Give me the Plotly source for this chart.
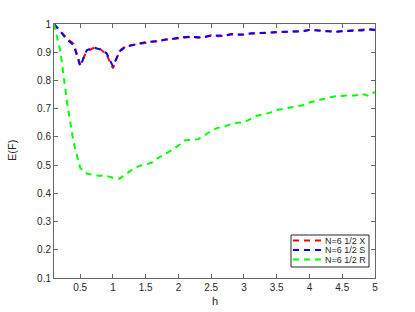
import plotly.graph_objects as go

h = [round(0.1 * i, 1) for i in range(1, 51)]

e_x = [1.000, 0.975, 0.948, 0.930, 0.858, 0.903, 0.915, 0.912, 0.893, 0.843,
       0.905, 0.922, 0.926, 0.930, 0.934, 0.937, 0.939, 0.944, 0.946, 0.950,
       0.952, 0.955, 0.951, 0.955, 0.960, 0.957, 0.958, 0.965, 0.962, 0.963,
       0.966, 0.968, 0.968, 0.969, 0.972, 0.971, 0.972, 0.973, 0.975, 0.980,
       0.977, 0.976, 0.974, 0.972, 0.974, 0.976, 0.976, 0.978, 0.982, 0.978]

e_s = [1.000, 0.972, 0.945, 0.925, 0.850, 0.907, 0.917, 0.910, 0.897, 0.850,
       0.903, 0.920, 0.925, 0.931, 0.936, 0.938, 0.940, 0.945, 0.947, 0.952,
       0.954, 0.955, 0.953, 0.954, 0.959, 0.958, 0.959, 0.963, 0.963, 0.963,
       0.967, 0.968, 0.967, 0.970, 0.972, 0.972, 0.972, 0.974, 0.974, 0.979,
       0.976, 0.975, 0.974, 0.972, 0.975, 0.976, 0.976, 0.977, 0.981, 0.980]

e_r = [1.000, 0.900, 0.720, 0.580, 0.490, 0.470, 0.465, 0.462, 0.462, 0.455,
       0.452, 0.470, 0.485, 0.497, 0.502, 0.510, 0.527, 0.540, 0.553, 0.570,
       0.588, 0.589, 0.592, 0.605, 0.622, 0.632, 0.636, 0.645, 0.650, 0.652,
       0.665, 0.675, 0.680, 0.686, 0.695, 0.700, 0.705, 0.708, 0.712, 0.722,
       0.728, 0.735, 0.740, 0.744, 0.746, 0.747, 0.747, 0.753, 0.745, 0.760]

names = ["N=6 1/2 X", "N=6 1/2 S", "N=6 1/2 R"]
colors = ["#ff0000", "#0000ff", "#00ff00"]

x_ticks = [0.5, 1, 1.5, 2, 2.5, 3, 3.5, 4, 4.5, 5]
x_labels = ["0.5", "1", "1.5", "2", "2.5", "3", "3.5", "4", "4.5", "5"]
y_ticks = [0.1, 0.2, 0.3, 0.4, 0.5, 0.6, 0.7, 0.8, 0.9, 1.0]
y_labels = ["0.1", "0.2", "0.3", "0.4", "0.5", "0.6", "0.7", "0.8", "0.9", "1"]

DASH = "6px,5px"
FAM = "Liberation Sans, Arial, sans-serif"
TXT = "#262626"
axis_color = "#666666"

fig = go.Figure()
for ys, nm, c in zip([e_x, e_s, e_r], names, colors):
    fig.add_trace(go.Scatter(x=h, y=ys, mode="lines", name=nm,
                             line=dict(color=c, width=2, dash=DASH)))

# legend (drawn in paper coordinates, MATLAB style compact box)
L, R, T, B = 54, 40, 24, 34
W, H = 415 - L - R, 312 - T - B
def px(x): return (x - L) / W
def py(y): return (312 - B - y) / H

shapes = [dict(type="rect", xref="paper", yref="paper",
               x0=px(291), x1=px(369), y0=py(267), y1=py(235),
               line=dict(color=TXT, width=1), fillcolor="white", layer="above")]
annotations = []
rows = [240.5, 250, 259.5]
for nm, c, ry in zip(names, colors, rows):
    shapes.append(dict(type="line", xref="paper", yref="paper",
                       x0=px(293), x1=px(321), y0=py(ry), y1=py(ry),
                       line=dict(color=c, width=2, dash=DASH), layer="above"))
    annotations.append(dict(text=nm, xref="paper", yref="paper",
                            x=px(322.5), y=py(ry), xanchor="left", yanchor="middle",
                            showarrow=False, font=dict(family=FAM, size=9, color=TXT)))

annotations.append(dict(text="h", xref="paper", yref="paper", x=px(214.5), y=py(301),
                        xanchor="center", yanchor="middle", showarrow=False,
                        font=dict(family=FAM, size=11, color=TXT)))
annotations.append(dict(text="E(F)", xref="paper", yref="paper", x=px(12), y=py(151),
                        xanchor="center", yanchor="middle", textangle=-90, showarrow=False,
                        font=dict(family=FAM, size=11, color=TXT)))

fig.update_layout(
    width=415, height=312,
    margin=dict(l=L, r=R, t=T, b=B),
    paper_bgcolor="white", plot_bgcolor="white",
    font=dict(family=FAM, size=10, color=TXT),
    showlegend=False,
    shapes=shapes,
    annotations=annotations,
)
fig.update_xaxes(range=[0.1, 5], tickvals=x_ticks, ticktext=x_labels,
                 ticks="inside", ticklen=4, tickcolor=axis_color,
                 showline=True, linecolor=axis_color, linewidth=1, mirror="ticks",
                 showgrid=False, zeroline=False, automargin=False)
fig.update_yaxes(range=[0.1, 1], tickvals=y_ticks, ticktext=y_labels,
                 ticks="inside", ticklen=4, tickcolor=axis_color,
                 showline=True, linecolor=axis_color, linewidth=1, mirror="ticks",
                 showgrid=False, zeroline=False, automargin=False)

fig.write_html("out.html", config={"displayModeBar": False},
               post_script="document.body.style.margin='0';document.body.style.overflow='hidden';")
